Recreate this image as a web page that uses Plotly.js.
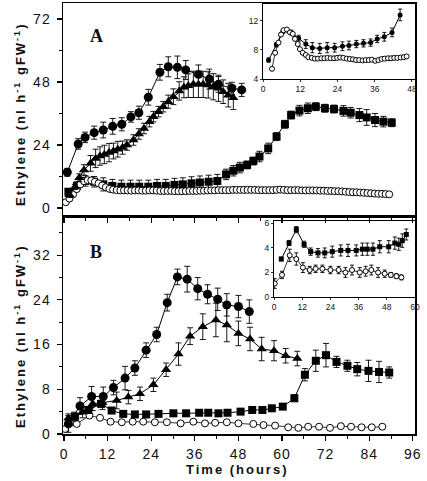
<!DOCTYPE html>
<html>
<head>
<meta charset="utf-8">
<script src="https://cdn.plot.ly/plotly-3.0.1.min.js"></script>
<style>
  html, body { margin: 0; padding: 0; background: #fff; }
  #chart { width: 427px; height: 481px; }
  .annotation-text { letter-spacing: 2px; }
  .xtick text, .ytick text, .x2tick text, .y2tick text { letter-spacing: 1px; }
</style>
</head>
<body>
<div id="chart"></div>
<script>
// ---------- Panel A (main) ----------
const aCircT = [0.9, 3.9, 5.8, 8.3, 10.8, 13.4, 15.9, 18.4, 20.6, 23.2, 26.4, 28.7, 31.2, 33.5, 37.0, 40.0, 42.5, 46.2, 48.9];
const aCircV = [13.6, 24.4, 26.9, 28.7, 29.7, 31.1, 31.9, 34.7, 36.3, 42.2, 51.7, 53.8, 53.6, 52.6, 50.9, 49.1, 47.1, 45.6, 45.0];
const aCircE = [1.5, 2, 2, 2.5, 3, 3, 2.5, 2, 2.5, 3, 3, 3.8, 4.3, 3.6, 3.6, 3.8, 3, 2.3, 2.5];

const aTriT = [1.5, 3.0, 4.2, 5.5, 7.3, 8.7, 9.9, 11.1, 12.4, 13.6, 14.8, 16.1, 17.3, 19.1, 20.6, 22.0, 23.5, 24.6, 26.0, 27.3, 28.7, 30.1, 31.7, 33.0, 34.2, 35.6, 37.0, 38.3, 39.7, 41.1, 42.5, 43.8, 45.2, 46.6];
const aTriV = [5, 8, 11.5, 14.5, 17, 18.9, 19.8, 20.4, 21.1, 21.7, 22.4, 23, 24, 25.9, 28.2, 30.3, 32.9, 34.8, 36.7, 38.6, 40.5, 42.4, 44.6, 46, 46.6, 47.1, 47.1, 47.1, 46.9, 46.2, 45.6, 44.3, 43, 42];
const aTriE = [1, 1, 1.5, 2, 3, 3.5, 3.5, 3.5, 3.5, 3, 3, 2.5, 2, 2, 2, 2, 2, 2, 2, 2, 2.5, 3, 3.5, 4, 4.5, 5, 5, 5, 5, 5, 5, 4.5, 4.5, 4.5];

const aSqT = [1.2, 3.6, 5.9, 8.3, 10.8, 13.3, 15.8, 18.3, 20.7, 23.2, 25.6, 28, 30.4, 32.7, 35.1, 37.4, 39.8, 42.2, 44.6, 46.6, 48.4, 50.4, 52.1, 53.8, 56.2, 58.5, 60.8, 62.5, 64.8, 67.1, 69.3, 71.8, 74.3, 76.9, 78.9, 81.3, 83.3, 85.6, 87.9, 90.2];
const aSqV = [6.2, 8.5, 10.3, 10, 9, 8.4, 8.1, 8.1, 8.1, 8.1, 8.4, 8.4, 8.8, 9, 9.4, 9.7, 10, 10.3, 12.8, 14.2, 15.4, 16.4, 17.9, 19.6, 22.7, 27.2, 31.9, 35.4, 37.1, 38, 38.6, 38, 37.7, 37, 36.3, 35.4, 34.5, 33.5, 32.9, 32.5];
const aSqE = [1, 1.5, 2, 2, 2.5, 2.5, 2.5, 2.5, 2.5, 2.5, 2.5, 2.5, 2.5, 2.5, 2.5, 2.5, 2.5, 2.5, 2, 2, 2, 1.5, 1.5, 2, 2, 1.5, 1.5, 1.5, 2, 2, 1.5, 1.5, 1.5, 2, 2, 2.5, 3, 2.5, 2, 1.5];

const aOpenT = [0.5, 1.5, 2.5, 3.5, 4.5, 5.5, 6.5, 7.5, 8.5, 9.5, 10.5, 11.5, 12.5, 13.5, 14.5, 15.5, 16.5, 17.5, 18.5, 19.5, 20.5, 21.5, 22.5, 23.5, 24.5, 25.5, 26.5, 27.5, 28.5, 29.5, 30.5, 31.5, 32.5, 33.5, 34.5, 35.5, 36.5, 37.5, 38.5, 39.5, 40.5, 41.5, 42.5, 43.5, 44.5, 45.5, 46.5, 47.5, 48.5, 49.5, 50.5, 51.5, 52.5, 53.5, 54.5, 55.5, 56.5, 57.5, 58.5, 59.5, 60.5, 61.5, 62.5, 63.5, 64.5, 65.5, 66.5, 67.5, 68.5, 69.5, 70.5, 71.5, 72.5, 73.5, 74.5, 75.5, 76.5, 77.5, 78.5, 79.5, 80.5, 81.5, 82.5, 83.5, 84.5, 85.5, 86.5, 87.5, 88.5, 89.5];
const aOpenV = [2.2, 3.6, 5.2, 7.2, 9, 10.2, 10.6, 10.5, 10, 9.4, 8.6, 7.9, 7.3, 7, 6.8, 6.7, 6.7, 6.7, 6.6, 6.7, 6.7, 6.6, 6.6, 6.7, 6.7, 6.6, 6.5, 6.5, 6.5, 6.5, 6.4, 6.4, 6.4, 6.4, 6.5, 6.5, 6.5, 6.6, 6.6, 6.7, 6.7, 6.7, 6.8, 6.8, 6.8, 6.8, 6.9, 6.9, 6.9, 6.9, 6.9, 6.9, 6.9, 6.8, 6.8, 6.8, 6.8, 6.8, 6.9, 7.0, 6.9, 6.8, 6.8, 6.8, 6.8, 6.7, 6.7, 6.7, 6.7, 6.7, 6.6, 6.6, 6.5, 6.5, 6.4, 6.4, 6.3, 6.2, 6.1, 6.0, 6.0, 5.9, 5.8, 5.7, 5.6, 5.5, 5.4, 5.4, 5.3, 5.2];

// ---------- Panel A inset ----------
const iaFillT = [1.8, 4.3, 6.4, 9.1, 11.5, 13.8, 15.9, 18.3, 20.7, 23.1, 25.6, 27.7, 30.1, 32.4, 34.7, 36.8, 39.1, 41.6, 44.2];
const iaFillV = [6.6, 8.7, 10.5, 10.4, 9.6, 8.8, 8.3, 8.2, 8.3, 8.3, 8.5, 8.6, 8.8, 8.9, 9.0, 9.5, 9.8, 10.4, 12.8];
const iaFillE = [0.3, 0.3, 0.2, 0.3, 0.4, 0.6, 0.7, 0.7, 0.7, 0.6, 0.6, 0.6, 0.5, 0.5, 0.5, 0.5, 0.6, 0.6, 0.8];
const iaOpenT = [2.9, 3.9, 5.0, 5.8, 6.6, 7.7, 8.7, 9.6, 10.3, 11.2, 11.9, 12.8, 13.8, 14.6, 15.7, 16.7, 17.7, 18.8, 19.8, 20.8, 21.8, 22.9, 23.9, 24.9, 25.9, 27.0, 28.0, 29.0, 30.0, 31.0, 32.1, 33.1, 34.1, 35.1, 36.2, 37.2, 38.2, 39.2, 40.3, 41.3, 42.3, 43.3, 44.4, 45.4, 46.3];
const iaOpenV = [5.4, 7.6, 9.0, 10.1, 10.7, 10.8, 10.4, 10.2, 9.5, 8.8, 8.1, 7.6, 7.3, 7.0, 6.9, 6.8, 6.8, 6.85, 6.85, 6.9, 6.85, 6.85, 6.9, 6.95, 6.9, 6.8, 6.75, 6.7, 6.6, 6.6, 6.55, 6.6, 6.6, 6.65, 6.5, 6.6, 6.75, 6.8, 6.85, 6.85, 6.9, 6.9, 6.95, 7.0, 7.1];

// ---------- Panel B (main) ----------
const bCircT = [1.2, 4.4, 7.6, 10.8, 13.6, 16.8, 19.5, 22.6, 25.5, 28.4, 31.2, 33.9, 36.8, 39.5, 42.3, 44.8, 48.0, 51.0];
const bCircV = [1.8, 5.0, 6.7, 6.7, 8.3, 10.0, 11.8, 15.0, 17.8, 23.5, 28.1, 27.7, 26.0, 25.0, 24.1, 23.1, 22.8, 21.9];
const bCircE = [1.5, 1.5, 1.8, 1.7, 1.3, 2.1, 1.3, 1.3, 1.3, 1.5, 1.4, 2.3, 2.0, 1.7, 2.0, 2.0, 2.0, 2.1];

const bTriT = [1.2, 2.8, 5.1, 7.9, 10.6, 14.5, 17.7, 20.9, 24.6, 28.1, 31.5, 34.7, 38.2, 41.8, 44.8, 48.0, 51.2, 54.4, 57.8, 61.0, 64.2];
const bTriV = [2.8, 3.1, 3.9, 5.4, 5.6, 6.0, 6.6, 7.2, 8.8, 11.5, 14.3, 17.5, 19.2, 20.4, 19.5, 18.0, 17.0, 15.2, 14.9, 14.0, 13.5];
const bTriE = [0.8, 0.8, 1.0, 1.2, 1.2, 1.5, 1.2, 1.2, 1.2, 1.2, 2.0, 1.5, 2.3, 3.0, 3.0, 2.2, 2.1, 2.1, 1.8, 1.3, 1.3];

const bSqT = [3.0, 6.7, 10.2, 13.1, 16.3, 19.5, 22.6, 26.0, 30.1, 33.6, 37.2, 39.7, 42.5, 45.0, 48.6, 51.8, 54.6, 57.2, 60.2, 63.4, 66.3, 69.3, 72.1, 75.0, 78.0, 80.7, 83.8, 86.7, 89.5];
const bSqV = [3.1, 4.3, 5.4, 4.2, 3.6, 3.5, 3.5, 3.6, 3.7, 3.7, 3.8, 3.8, 3.7, 3.8, 4.0, 4.3, 4.3, 4.6, 4.9, 6.4, 10.6, 13.1, 14.1, 12.9, 12.2, 11.6, 11.3, 11.1, 11.0];
const bSqE = [0.3, 0.4, 0.6, 0.5, 0.4, 0.3, 0.3, 0.4, 0.4, 0.4, 0.4, 0.5, 0.4, 0.5, 0.5, 0.5, 0.5, 0.5, 0.5, 0.6, 1.1, 1.9, 2.1, 1.0, 1.0, 1.2, 1.9, 1.9, 1.0];

const bOpenT = [0.3, 3.5, 7.0, 9.9, 12.8, 15.9, 18.9, 21.8, 25.0, 28.3, 32.1, 35.6, 38.8, 41.6, 44.8, 48.0, 52.1, 54.9, 58.1, 61.7, 64.5, 67.2, 70.2, 73.2, 76.2, 79.0, 81.9, 84.7, 87.6];
const bOpenV = [0.9, 1.8, 3.3, 2.9, 2.2, 2.1, 2.2, 2.2, 2.1, 2.1, 1.9, 2.2, 1.9, 2.0, 2.1, 1.9, 1.8, 1.6, 1.5, 1.2, 1.1, 1.3, 1.3, 1.1, 1.4, 1.3, 1.2, 1.2, 1.3];

// ---------- Panel B inset ----------
const ibSqT = [3.1, 6.4, 9.5, 12.8, 15.6, 18.7, 21.6, 24.8, 28.4, 31.5, 35.0, 37.6, 39.7, 42.1, 45.0, 48.8, 51.4, 53.1, 54.6, 56.3];
const ibSqV = [3.1, 4.4, 5.5, 4.3, 3.7, 3.6, 3.6, 3.7, 3.8, 3.8, 3.8, 3.9, 3.9, 3.9, 4.1, 4.1, 4.4, 4.3, 4.6, 5.1];
const ibSqE = [0.15, 0.2, 0.25, 0.25, 0.3, 0.35, 0.4, 0.45, 0.45, 0.5, 0.45, 0.5, 0.5, 0.5, 0.5, 0.5, 0.5, 0.5, 0.55, 0.45];
const ibOpenT = [0.3, 3.4, 6.7, 9.5, 12.3, 15.2, 17.7, 20.6, 24.0, 27.5, 30.4, 33.2, 36.5, 39.0, 41.4, 44.3, 47.1, 49.7, 52.1, 54.2];
const ibOpenV = [1.1, 1.8, 3.4, 3.1, 2.4, 2.2, 2.3, 2.3, 2.2, 2.2, 2.0, 2.2, 2.0, 2.1, 2.2, 2.0, 1.9, 1.8, 1.7, 1.6];
const ibOpenE = [0.4, 0.3, 0.5, 0.5, 0.4, 0.3, 0.3, 0.3, 0.3, 0.3, 0.4, 0.4, 0.4, 0.4, 0.4, 0.4, 0.3, 0.2, 0.2, 0.2];

const xTicks = [0, 12, 24, 36, 48, 60, 72, 84, 96];
const aYTicks = [0, 24, 48, 72];
const bYTicks = [0, 8, 16, 24, 32];
const iaXTicks = [0, 12, 24, 36, 48];
const iaYTicks = [4, 8, 12];
const ibXTicks = [0, 12, 24, 36, 48, 60];
const ibYTicks = [0, 2, 4, 6];

// ---------- helpers ----------
const K = '#000';
function err(arr, w) {
  return arr ? { type: 'data', array: arr, visible: true, color: K, thickness: 0.9, width: w } : { visible: false };
}
function filled(x, y, e, sym, size, xa, ya, w) {
  return {
    x: x, y: y, xaxis: xa, yaxis: ya, type: 'scatter', mode: 'lines+markers',
    line: { color: K, width: 1 },
    marker: { symbol: sym, size: size, color: K, line: { width: 0 } },
    error_y: err(e, w), hoverinfo: 'skip', showlegend: false
  };
}
function open(x, y, e, size, xa, ya, w) {
  return {
    x: x, y: y, xaxis: xa, yaxis: ya, type: 'scatter', mode: 'lines+markers',
    line: { color: K, width: 0.8 },
    marker: { symbol: 'circle', size: size, color: '#fff', line: { color: K, width: 1 } },
    error_y: err(e, w), hoverinfo: 'skip', showlegend: false
  };
}

const traces = [
  filled(aSqT, aSqV, aSqE, 'square', 8, 'x', 'y', 3),
  open(aOpenT, aOpenV, null, 7, 'x', 'y', 3),
  filled(aTriT, aTriV, aTriE, 'triangle-up', 9, 'x', 'y', 3),
  filled(aCircT, aCircV, aCircE, 'circle', 9, 'x', 'y', 3),

  filled(iaFillT, iaFillV, iaFillE, 'circle', 5, 'x3', 'y3', 2),
  open(iaOpenT, iaOpenV, null, 5, 'x3', 'y3', 2),

  open(bOpenT, bOpenV, null, 7, 'x2', 'y2', 3),
  filled(bSqT, bSqV, bSqE, 'square', 8, 'x2', 'y2', 3),
  filled(bTriT, bTriV, bTriE, 'triangle-up', 9, 'x2', 'y2', 3),
  filled(bCircT, bCircV, bCircE, 'circle', 9, 'x2', 'y2', 3),

  open(ibOpenT, ibOpenV, ibOpenE, 5, 'x4', 'y4', 2),
  filled(ibSqT, ibSqV, ibSqE, 'square', 5, 'x4', 'y4', 2)
];

const W = 427, H = 481;
const fx = p => p / W;
const fy = p => 1 - p / H;

const tickFont = { family: 'Arial, Liberation Sans, sans-serif', size: 14, color: '#111' };
const smallFont = { family: 'Arial, Liberation Sans, sans-serif', size: 8.5, color: '#111' };

function mainAxis(extra) {
  return Object.assign({
    showline: true, linecolor: K, linewidth: 1.5, mirror: true,
    ticks: 'outside', ticklen: 5, tickwidth: 1.2, tickcolor: K,
    showgrid: false, zeroline: false, tickfont: tickFont, fixedrange: true
  }, extra);
}
function insetAxis(extra) {
  return Object.assign({
    showline: true, linecolor: K, linewidth: 1, mirror: true,
    ticks: 'outside', ticklen: 2, tickwidth: 0.8, tickcolor: K,
    showgrid: false, zeroline: false, tickfont: smallFont, fixedrange: true
  }, extra);
}

const layout = {
  width: W, height: H, autosize: false,
  margin: { l: 0, r: 0, t: 0, b: 0, pad: 0 },
  paper_bgcolor: '#fff', plot_bgcolor: 'rgba(0,0,0,0)',
  showlegend: false,
  xaxis: mainAxis({ domain: [fx(63), fx(415)], range: [-0.28, 96.6], anchor: 'y',
    tickvals: xTicks, showticklabels: false,
    minor: { dtick: 6, tick0: 0, ticks: 'outside', ticklen: 3, tickcolor: K, tickwidth: 1, showgrid: false } }),
  yaxis: mainAxis({ domain: [fy(216), fy(3)], range: [-3.05, 78.1], anchor: 'x',
    tickvals: aYTicks, ticktext: aYTicks.map(String), ticklabelstandoff: 3,
    minor: { dtick: 12, tick0: 0, ticks: 'outside', ticklen: 3, tickcolor: K, tickwidth: 1, showgrid: false } }),
  xaxis2: mainAxis({ domain: [fx(63), fx(415)], range: [-0.28, 96.6], anchor: 'y2',
    tickvals: xTicks, ticktext: xTicks.map(String), ticklabelstandoff: 2,
    minor: { dtick: 6, tick0: 0, ticks: 'outside', ticklen: 3, tickcolor: K, tickwidth: 1, showgrid: false } }),
  yaxis2: mainAxis({ domain: [fy(434), fy(216)], range: [0, 39], anchor: 'x2',
    tickvals: bYTicks, ticktext: bYTicks.map(String), ticklabelstandoff: 3,
    minor: { dtick: 4, tick0: 0, ticks: 'outside', ticklen: 3, tickcolor: K, tickwidth: 1, showgrid: false } }),
  xaxis3: insetAxis({ domain: [fx(263), fx(415)], range: [0, 49], anchor: 'y3',
    tickvals: iaXTicks, ticktext: iaXTicks.map(String) }),
  yaxis3: insetAxis({ domain: [fy(79), fy(4)], range: [4, 14.3], anchor: 'x3',
    tickvals: iaYTicks, ticktext: iaYTicks.map(String) }),
  xaxis4: insetAxis({ domain: [fx(274), fx(415)], range: [0, 60], anchor: 'y4',
    tickvals: ibXTicks, ticktext: ibXTicks.map(String) }),
  yaxis4: insetAxis({ domain: [fy(297), fy(221)], range: [0, 6.2], anchor: 'x4',
    tickvals: ibYTicks, ticktext: ibYTicks.map(String) }),
  annotations: [
    { text: 'Ethylene (nl h<sup>-1</sup> gFW<sup>-1</sup>)', xref: 'paper', yref: 'paper',
      x: fx(20), y: fy(114), textangle: -90, showarrow: false, xanchor: 'center', yanchor: 'middle',
      font: { family: 'Arial, Liberation Sans, sans-serif', size: 13, color: '#111', weight: 'bold' } },
    { text: 'Ethylene (nl h<sup>-1</sup> gFW<sup>-1</sup>)', xref: 'paper', yref: 'paper',
      x: fx(20), y: fy(336), textangle: -90, showarrow: false, xanchor: 'center', yanchor: 'middle',
      font: { family: 'Arial, Liberation Sans, sans-serif', size: 13, color: '#111', weight: 'bold' } },
    { text: 'Time (hours)', xref: 'paper', yref: 'paper',
      x: fx(238), y: fy(469), showarrow: false, xanchor: 'center', yanchor: 'middle',
      font: { family: 'Arial, Liberation Sans, sans-serif', size: 13, color: '#111', weight: 'bold' } },
    { text: 'A', xref: 'paper', yref: 'paper', x: fx(97), y: fy(36), showarrow: false,
      xanchor: 'center', yanchor: 'middle',
      font: { family: 'Times New Roman, Liberation Serif, serif', size: 18, color: '#111', weight: 'bold' } },
    { text: 'B', xref: 'paper', yref: 'paper', x: fx(97), y: fy(252), showarrow: false,
      xanchor: 'center', yanchor: 'middle',
      font: { family: 'Times New Roman, Liberation Serif, serif', size: 18, color: '#111', weight: 'bold' } }
  ]
};

Plotly.newPlot('chart', traces, layout, { staticPlot: true, displayModeBar: false });
</script>
</body>
</html>
